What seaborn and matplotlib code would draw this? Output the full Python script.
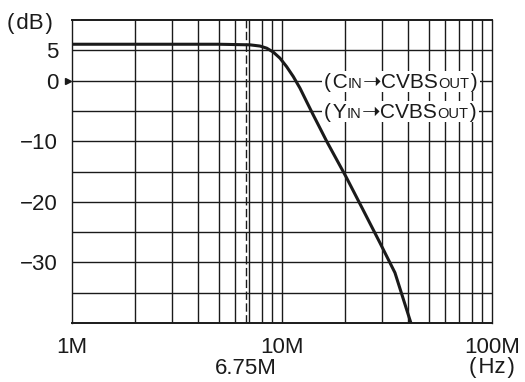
import numpy as np
import matplotlib
matplotlib.use("Agg")
import matplotlib.pyplot as plt
import matplotlib.transforms as mtrans
import seaborn as sns

# frequency response (MHz, dB)
freq_mhz = [1.0, 5.0, 7.04, 7.86, 8.46, 9.09, 9.78, 10.52, 11.32, 12.18, 13.11,
            14.10, 15.17, 16.37, 20.2, 24.3, 29.3, 34.5, 41.1]
gain_db = [6.0, 6.0, 5.9, 5.7, 5.35, 4.7, 3.7, 2.3, 0.66, -1.25, -3.5,
           -5.7, -7.85, -10.1, -15.9, -21.3, -26.8, -31.7, -40.0]

x_ticks = [1, 10, 100]
x_labels = ["1M", "10M", "100M"]
y_grid = [-35, -30, -25, -20, -15, -10, -5, 0, 5]
y_labels = {5: "5", 0: "0", -10: "\u221210", -20: "\u221220", -30: "\u221230"}
marker_freq = 6.75
marker_label = "6.75M"
legend_rows = [("C", 0), ("Y", -5)]

sns.set_style("white")
plt.rcParams["font.family"] = ["Liberation Sans", "DejaVu Sans"]

ink = "#1a1a1a"
fig = plt.figure(figsize=(5.25, 3.82), dpi=100)
ax = fig.add_axes([72 / 525, 1 - 323 / 382, 420 / 525, 303 / 382])

ax.set_xscale("log")
sns.lineplot(x=freq_mhz, y=gain_db, ax=ax, color=ink, lw=2.2, zorder=4)
ax.axvline(marker_freq, color=ink, lw=1.0, ls=(0, (6, 2.5)), zorder=3)

ax.set_xlim(1, 100)
ax.set_ylim(-40, 10)

# grid: every 5 dB, and 1-2-...-9 per decade
minor_x = [m * d for d in (1, 10) for m in range(2, 10)]
for xv in minor_x + [10]:
    ax.axvline(xv, color=ink, lw=1.0, zorder=1)
for yv in y_grid:
    ax.axhline(yv, color=ink, lw=1.0, zorder=1)

for s in ax.spines.values():
    s.set_visible(True)
    s.set_color(ink)
    s.set_linewidth(1.4)
ax.spines["left"].set_linewidth(1.0)
ax.spines["right"].set_linewidth(1.0)

ax.set_xticks(x_ticks)
ax.set_xticklabels(x_labels)
ax.xaxis.set_minor_locator(matplotlib.ticker.NullLocator())
ax.set_yticks(list(y_labels.keys()))
ax.set_yticklabels(list(y_labels.values()))
ax.tick_params(axis="both", length=0, labelsize=16, colors=ink)
ax.tick_params(axis="x", pad=10)
ax.tick_params(axis="y", pad=10)
ax.set_xlabel("")
ax.set_ylabel("")

# small pointer at 0 dB, just left of the axis
ax.plot([-0.01], [0], marker=">", ms=4, color=ink, clip_on=False,
        transform=mtrans.blended_transform_factory(ax.transAxes, ax.transData))

hs = "\u200a"
fig.text(30 / 525, 1 - 24 / 382, "(" + hs + "dB" + hs + ")", fontsize=16,
         ha="center", va="center", color=ink)
fig.text(246 / 525, 1 - 368 / 382, marker_label, fontsize=16, ha="center",
         va="center", color=ink)
fig.text(492 / 525, 1 - 368 / 382, "(" + hs + "Hz" + hs + ")", fontsize=16,
         ha="center", va="center", color=ink)

# legend labels with small-caps style subscripts
fig.canvas.draw()
renderer = fig.canvas.get_renderer()
for letter, level in legend_rows:
    _, line_y = ax.transData.transform((1, level))
    base_y = line_y - 7
    x_disp = 324
    pieces = [("(" + hs + letter, 15, 0), ("IN", 10.5, 0), ("\u279d", 16, 0),
              ("CVBS", 15, 0), ("OUT", 10.5, 0), (hs + ")", 15, 0)]
    for txt, size, lift in pieces:
        t = fig.text(x_disp / fig.bbox.width, (base_y + lift) / fig.bbox.height, txt,
                     fontsize=size, ha="left", va="baseline", color=ink, zorder=6,
                     family=["Liberation Sans", "DejaVu Sans"])
        bb = t.get_window_extent(renderer)
        x_disp = bb.x1
    x0 = 322
    x1 = x_disp + 2
    rect = plt.Rectangle((x0, base_y - 4), x1 - x0, 21,
                         transform=mtrans.IdentityTransform(),
                         facecolor="white", edgecolor="none", zorder=5)
    fig.add_artist(rect)

fig.savefig("out.png", dpi=100)
